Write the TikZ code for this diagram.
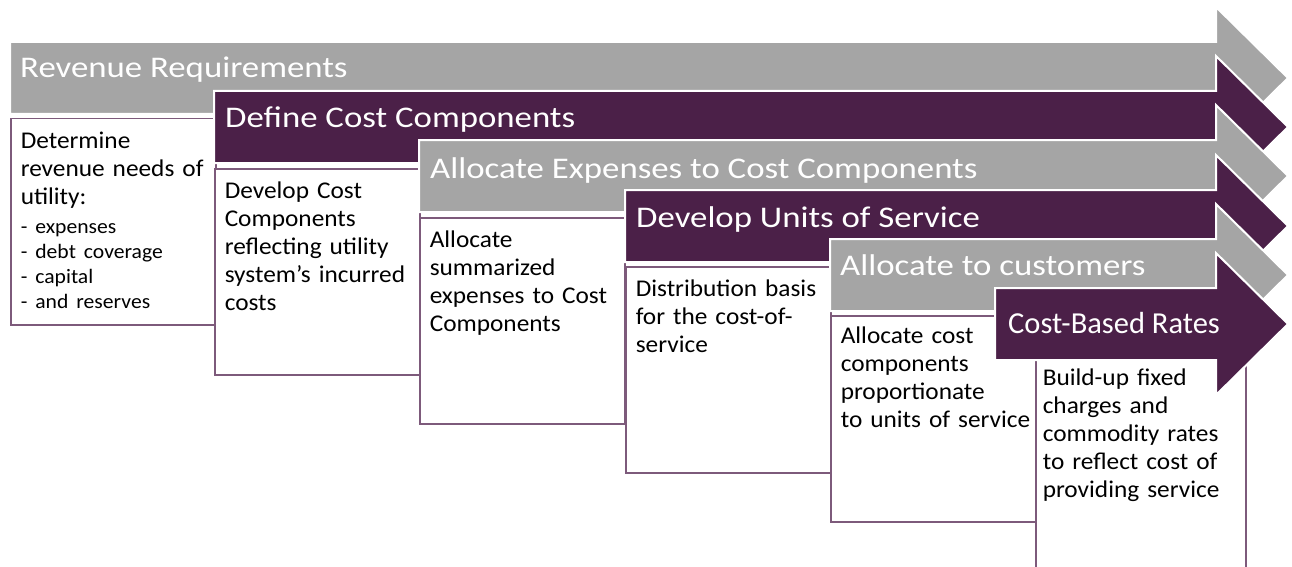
\documentclass[tikz,border=0pt]{standalone}
\usepackage{fontspec}
\setmainfont{Carlito}
\newfontfamily\bodyfont[FakeStretch=1.055]{Carlito}
\newfontfamily\titlefont[FakeStretch=1.16]{Carlito}

\definecolor{plum}{RGB}{75,32,72}
\definecolor{stepgray}{RGB}{165,165,165}
\definecolor{boxline}{RGB}{125,90,123}

\tikzset{
  grayarrow/.style={fill=stepgray,draw=white,line width=2pt},
  plumarrow/.style={fill=plum,draw=white,line width=2pt},
  steptitle/.style={anchor=base west,inner sep=0pt,text=white,
                    font=\titlefont\fontsize{30}{34}\selectfont},
  stepbox/.style={draw=boxline,line width=1.5pt,fill=white,
                  anchor=north west,text width=185pt,
                  inner xsep=10pt,inner ysep=0pt,
                  text height=30pt,text depth=176pt,
                  execute at begin node={\rightskip=0pt minus 20pt},
                  font=\bodyfont\fontsize{24}{28}\selectfont},
}

\begin{document}
\begin{tikzpicture}[x=1pt,y=-1pt]

\useasboundingbox (0,0) rectangle (1292,567);
\clip (0,0) rectangle (1292,567);

% description boxes
\node[stepbox] (revbox) at (10,118)
  {Determine\\revenue needs of\\utility:\par\vspace{4pt}
   {\fontsize{20.5}{25}\selectfont\rightskip=0pt minus 20pt
    - expenses\\- debt coverage\\- capital\\- and reserves\par}};

\node[stepbox] (defbox) at (214,168)
  {Develop Cost\\Components\\reflecting utility\\system’s incurred\\costs};

\node[stepbox] (allocbox) at (419,217)
  {Allocate\\summarized\\expenses to Cost\\Components};

\node[stepbox] (unitsbox) at (625,266)
  {Distribution basis\\for the cost-of-\\service};

\node[stepbox,text height=28pt,text depth=178pt] (custbox) at (830,315)
  {Allocate cost\\components\\proportionate\\to units of service};

\node[stepbox,text width=196pt,inner xsep=7pt,text depth=200pt] (ratesbox) at (1035,355)
  {Build-up fixed\\charges and\\commodity rates\\to reflect cost of\\providing service};

% step arrows
\draw[grayarrow] (10,42) -- (1216,42) -- (1216,7) -- (1288,78)
      -- (1216,149) -- (1216,114) -- (10,114) -- cycle;
\node[steptitle] (rev) at (20,78) {Revenue Requirements};

\draw[plumarrow] (214,91) -- (1216,91) -- (1216,56) -- (1288,127)
      -- (1216,198) -- (1216,163) -- (214,163) -- cycle;
\node[steptitle] (def) at (225,128) {Define Cost Components};

\draw[grayarrow] (419,140) -- (1216,140) -- (1216,105) -- (1288,176)
      -- (1216,247) -- (1216,212) -- (419,212) -- cycle;
\node[steptitle] (alloc) at (430,178) {Allocate Expenses to Cost Components};

\draw[plumarrow] (625,190) -- (1216,190) -- (1216,155) -- (1288,226)
      -- (1216,297) -- (1216,262) -- (625,262) -- cycle;
\node[steptitle] (units) at (636,227) {Develop Units of Service};

\draw[grayarrow] (830,239) -- (1216,239) -- (1216,204) -- (1288,275)
      -- (1216,346) -- (1216,311) -- (830,311) -- cycle;
\node[steptitle] (cust) at (840,275) {Allocate to customers};

\draw[plumarrow] (995,288) -- (1216,288) -- (1216,253) -- (1288,324)
      -- (1216,395) -- (1216,360) -- (995,360) -- cycle;
\node[steptitle,font=\fontsize{30.5}{34}\selectfont] (rates) at (1008,333) {Cost-Based Rates};

\end{tikzpicture}
\end{document}
